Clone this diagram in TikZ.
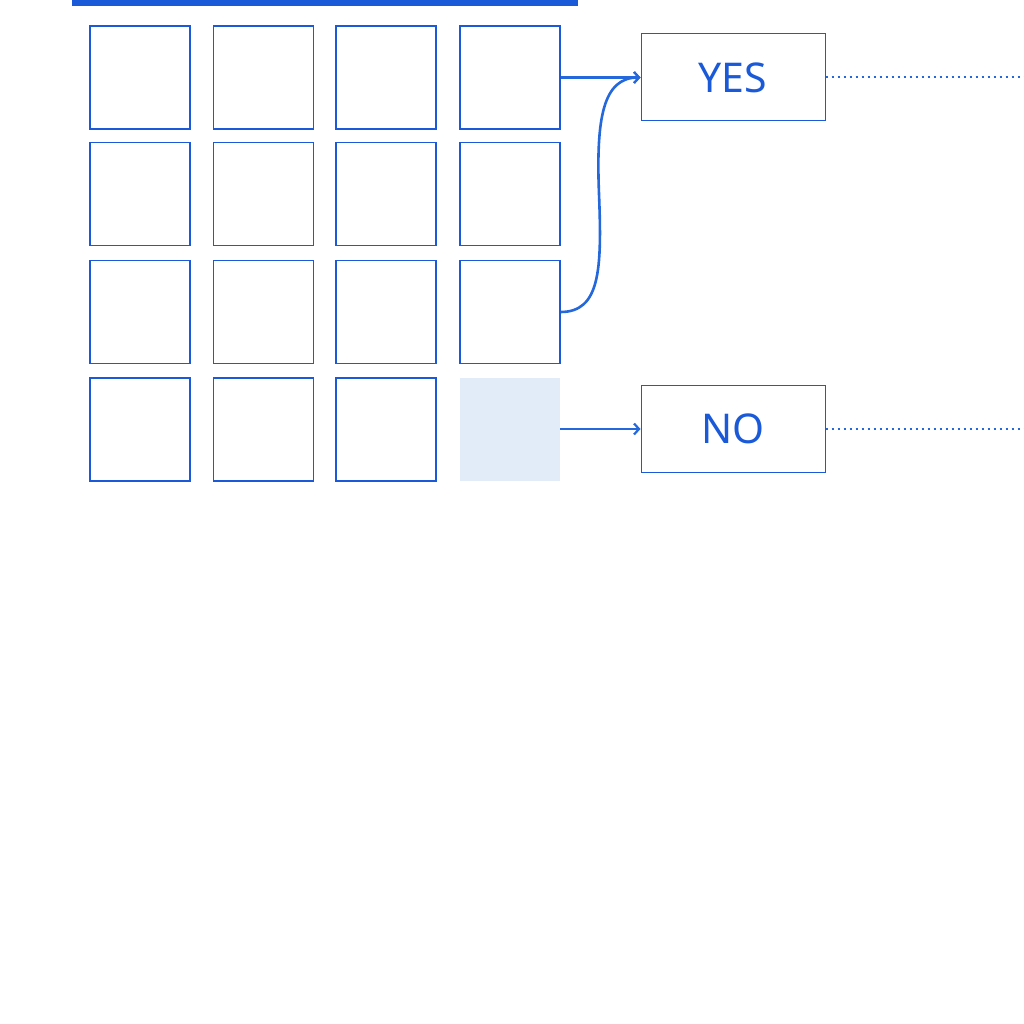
\documentclass[tikz,border=0pt]{standalone}
\usepackage{fontspec}
\setmainfont{Noto Sans}
\usetikzlibrary{arrows.meta}
\definecolor{bl}{HTML}{1A5AD8}
\definecolor{bline}{HTML}{2468DC}
\definecolor{lightcell}{HTML}{E1ECF8}
\tikzset{
  cell/.style={draw=bl, line width=1.2pt, minimum width=100pt, minimum height=103pt, inner sep=0pt},
  emptycell/.style={fill=lightcell, minimum width=100pt, minimum height=103pt, inner sep=0pt},
  answer/.style={draw=bl, line width=1pt, minimum width=184pt, minimum height=87pt, inner sep=0pt, text=bl, font=\fontsize{41}{41}\selectfont},
  link/.style={draw=bline, line width=2.6pt, -{Straight Barb[length=5pt,width=11pt,line width=2.2pt]}},
  trail/.style={draw=bline, line width=2pt, dash pattern=on 2pt off 4pt}
}
\begin{document}
\begin{tikzpicture}[x=1pt,y=-1pt]
\useasboundingbox (0,0) rectangle (1024,1024);
\fill[bl] (72,0) rectangle (578,6);
% grid
\foreach \r/\y in {0/77.5,1/194,2/312,3/429.5}{
  \foreach \c/\x in {0/140,1/263.5,2/386,3/510}{
    \ifnum\r\c=33\relax
      \node[emptycell] (c\r\c) at (\x,\y) {};
    \else
      \node[cell] (c\r\c) at (\x,\y) {};
    \fi
  }
}
\node[answer] (yes) at (733,77.5) {YES};
\node[answer] (no) at (733,429) {NO};
\coordinate (yesend) at (1024,77.5);
\coordinate (noend) at (1024,429);
\draw[link] (c03.east) -- (yes.west);
\draw[link] (c23.east) .. controls (600,312) and (602,270) .. (599,194)
  .. controls (596,118) and (603,77.5) .. (yes.west);
\draw[link] (c33.east |- no.west) -- (no.west);
\draw[trail] (yes.east) -- (yesend);
\draw[trail] (no.east) -- (noend);
\end{tikzpicture}
\end{document}
